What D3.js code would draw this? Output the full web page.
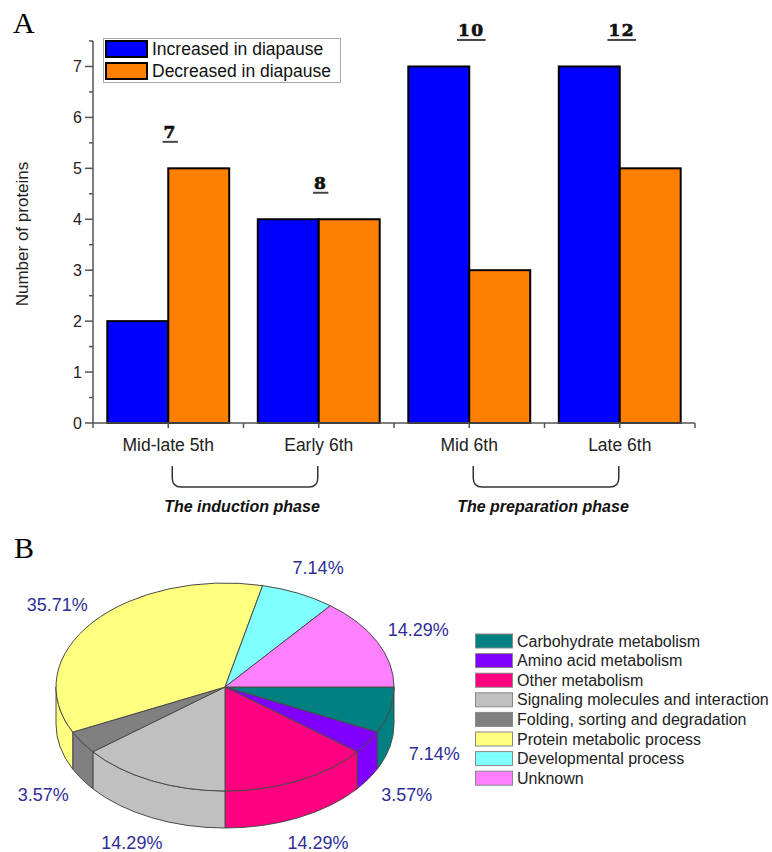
<!DOCTYPE html>
<html>
<head>
<meta charset="utf-8">
<script src="https://cdn.jsdelivr.net/npm/d3@7"></script>
<style>
  html, body { margin: 0; padding: 0; background: #fff; }
  svg { display: block; font-family: Arial, "Liberation Sans", sans-serif; }
</style>
</head>
<body>
<svg id="fig" width="772" height="852"></svg>
<script>
// ---- Panel A: proteins changed per developmental stage ----
const categories = ["Mid-late 5th", "Early 6th", "Mid 6th", "Late 6th"];
const increased = [2, 4, 7, 7];
const decreased = [5, 4, 3, 5];
const seriesNames = ["Increased in diapause", "Decreased in diapause"];
const seriesColors = ["#0000FF", "#FF8000"];
const yTicks = [0, 1, 2, 3, 4, 5, 6, 7];
const phaseLabels = ["The induction phase", "The preparation phase"];
const phaseFrom = ["Mid-late 5th", "Mid 6th"];
const phaseTo = ["Early 6th", "Late 6th"];

// ---- Panel B: functional classes of the proteins ----
const pieCategories = [
  "Carbohydrate metabolism",
  "Amino acid metabolism",
  "Other metabolism",
  "Signaling molecules and interaction",
  "Folding, sorting and degradation",
  "Protein metabolic process",
  "Developmental process",
  "Unknown"
];
const pieCounts = [2, 1, 4, 4, 1, 10, 2, 4];
const pieColors = ["#008080", "#8000FF", "#FF0080", "#C0C0C0", "#808080", "#FFFF80", "#80FFFF", "#FF80FF"];

const svg = d3.select("#fig");
const axisColor = "#555";

// ================= Panel A =================
svg.append("text").attr("x", 13).attr("y", 33)
  .attr("font-family", "'Liberation Serif', 'DejaVu Serif', serif")
  .attr("font-size", 30).text("A");

const x0 = d3.scaleBand().domain(categories).range([93, 695])
  .paddingInner(0.19).paddingOuter(0.095);
const x1 = d3.scaleBand().domain([0, 1]).range([0, x0.bandwidth()]);
const y = d3.scaleLinear().domain([0, 7.5]).range([423, 41]);

const gA = svg.append("g");

// bars
const rows = categories.map((c, i) => ({ cat: c, vals: [increased[i], decreased[i]] }));
const grp = gA.selectAll("g.grp").data(rows).join("g")
  .attr("transform", d => `translate(${x0(d.cat)},0)`);
grp.selectAll("rect").data(d => d.vals.map((v, k) => ({ v, k }))).join("rect")
  .attr("x", d => x1(d.k))
  .attr("width", x1.bandwidth())
  .attr("y", d => y(d.v))
  .attr("height", d => y(0) - y(d.v))
  .attr("fill", d => seriesColors[d.k])
  .attr("stroke", "#000").attr("stroke-width", 2);

// totals above each group
const totals = gA.selectAll("g.tot").data(rows).join("g");
totals.each(function (d) {
  const g = d3.select(this);
  const total = d.vals[0] + d.vals[1];
  const cx = x0(d.cat) + x0.bandwidth() / 2 + 2;
  const by = y(Math.max(d.vals[0], d.vals[1])) - 30;
  const t = g.append("text").attr("x", cx).attr("y", by)
    .attr("text-anchor", "middle")
    .attr("font-family", "'DejaVu Serif', serif").attr("font-weight", "bold")
    .attr("font-size", 17).attr("letter-spacing", 1.5)
    .attr("fill", "#111").attr("stroke", "#111").attr("stroke-width", 0.7)
    .text(total);
  const w = t.node().getComputedTextLength();
  g.append("line").attr("x1", cx - w / 2 - 1).attr("x2", cx + w / 2 + 1)
    .attr("y1", by + 3.5).attr("y2", by + 3.5)
    .attr("stroke", "#444").attr("stroke-width", 2);
});

// y axis
const yAxisG = gA.append("g");
yAxisG.append("line").attr("x1", 93).attr("x2", 93).attr("y1", y(0)).attr("y2", y(7.5))
  .attr("stroke", axisColor).attr("stroke-width", 1.5);
const yMinor = d3.range(0.5, 7.6, 1);
yAxisG.selectAll("line.maj").data(yTicks).join("line")
  .attr("x1", 85).attr("x2", 93).attr("y1", d => y(d)).attr("y2", d => y(d))
  .attr("stroke", axisColor).attr("stroke-width", 1.5);
yAxisG.selectAll("line.min").data(yMinor).join("line")
  .attr("x1", 89).attr("x2", 93).attr("y1", d => y(d)).attr("y2", d => y(d))
  .attr("stroke", axisColor).attr("stroke-width", 1.5);
yAxisG.selectAll("text").data(yTicks).join("text")
  .attr("x", 82).attr("y", d => y(d)).attr("dy", "0.35em")
  .attr("text-anchor", "end").attr("font-size", 16).attr("fill", "#222")
  .text(d => d);
gA.append("text")
  .attr("transform", `translate(28,${(y(0) + y(7.5)) / 2 + 2}) rotate(-90)`)
  .attr("text-anchor", "middle").attr("font-size", 17).attr("fill", "#222")
  .text("Number of proteins");

// x axis
const xAxisG = gA.append("g");
xAxisG.append("line").attr("x1", 93).attr("x2", 695).attr("y1", y(0)).attr("y2", y(0))
  .attr("stroke", axisColor).attr("stroke-width", 1.5);
const step = x0.step();
const xTickPos = d3.range(0, categories.length * 2 + 1).map(i => 93 + i * step / 2);
xAxisG.selectAll("line.tk").data(xTickPos).join("line")
  .attr("x1", d => d).attr("x2", d => d).attr("y1", y(0)).attr("y2", y(0) + 5)
  .attr("stroke", axisColor).attr("stroke-width", 1.5);
xAxisG.selectAll("text").data(categories).join("text")
  .attr("x", d => x0(d) + x0.bandwidth() / 2).attr("y", 451)
  .attr("text-anchor", "middle").attr("font-size", 17.5).attr("fill", "#222")
  .text(d => d);

// phase brackets
phaseLabels.forEach((lab, i) => {
  const xa = x0(phaseFrom[i]) + x0.bandwidth() / 2 + 4;
  const xb = x0(phaseTo[i]) + x0.bandwidth() / 2 - 1;
  const top = 466, bot = 487, r = 9;
  gA.append("path")
    .attr("d", `M${xa},${top} L${xa},${bot - r} Q${xa},${bot} ${xa + r},${bot} L${xb - r},${bot} Q${xb},${bot} ${xb},${bot - r} L${xb},${top}`)
    .attr("fill", "none").attr("stroke", "#333").attr("stroke-width", 1.5);
  gA.append("text").attr("x", (xa + xb) / 2 - 3).attr("y", 512)
    .attr("text-anchor", "middle").attr("font-size", 16)
    .attr("font-weight", "bold").attr("font-style", "italic").attr("fill", "#111")
    .text(lab);
});

// legend
const legA = gA.append("g");
legA.append("rect").attr("x", 103.5).attr("y", 38.5).attr("width", 237).attr("height", 44)
  .attr("fill", "#fff").attr("stroke", "#aaa").attr("stroke-width", 1);
seriesNames.forEach((n, k) => {
  legA.append("rect").attr("x", 106).attr("y", 41 + k * 22).attr("width", 41).attr("height", 16)
    .attr("fill", seriesColors[k]).attr("stroke", "#000").attr("stroke-width", 2);
  legA.append("text").attr("x", 152).attr("y", 55 + k * 22)
    .attr("font-size", 17.5).attr("fill", "#111").text(n);
});

// ================= Panel B =================
svg.append("text").attr("x", 14).attr("y", 558)
  .attr("font-family", "'Liberation Serif', 'DejaVu Serif', serif")
  .attr("font-size", 30).text("B");

const pcx = 225, pcy = 687, rx = 169, ry = 104, depth = 37;
const total = d3.sum(pieCounts);
const arcs = d3.pie().sort(null).startAngle(Math.PI / 2).endAngle(Math.PI / 2 + 2 * Math.PI)(pieCounts);
const pt = (a, dy = 0) => [pcx + rx * Math.sin(a), pcy - ry * Math.cos(a) + dy];
const pieStroke = "#4a4a4a";

const gB = svg.append("g");

// side walls on the front half (angles pi/2 .. 3pi/2)
arcs.forEach((d, i) => {
  const s0 = Math.max(d.startAngle, Math.PI / 2);
  const s1 = Math.min(d.endAngle, 3 * Math.PI / 2);
  if (s1 <= s0) return;
  const p0 = pt(s0), p1 = pt(s1), q1 = pt(s1, depth), q0 = pt(s0, depth);
  const large = (s1 - s0) > Math.PI ? 1 : 0;
  gB.append("path")
    .attr("d", `M${p0} A${rx},${ry} 0 ${large} 1 ${p1} L${q1} A${rx},${ry} 0 ${large} 0 ${q0} Z`)
    .attr("fill", pieColors[i]).attr("stroke", pieStroke).attr("stroke-width", 1)
    .attr("stroke-linejoin", "round");
});

// top faces
arcs.forEach((d, i) => {
  const p0 = pt(d.startAngle), p1 = pt(d.endAngle);
  const large = (d.endAngle - d.startAngle) > Math.PI ? 1 : 0;
  gB.append("path")
    .attr("d", `M${pcx},${pcy} L${p0} A${rx},${ry} 0 ${large} 1 ${p1} Z`)
    .attr("fill", pieColors[i]).attr("stroke", pieStroke).attr("stroke-width", 1)
    .attr("stroke-linejoin", "round");
});

// percentage labels
arcs.forEach((d, i) => {
  const mid = (d.startAngle + d.endAngle) / 2;
  const front = -Math.cos(mid) > 0;
  const lx = pcx + 1.27 * rx * Math.sin(mid);
  const ly = pcy - 1.27 * ry * Math.cos(mid) + (front ? depth : 0);
  gB.append("text").attr("x", lx).attr("y", ly).attr("dy", "0.36em")
    .attr("text-anchor", "middle").attr("font-size", 18).attr("fill", "#2e2e96")
    .text((pieCounts[i] / total * 100).toFixed(2) + "%");
});

// legend
const legB = gB.append("g");
pieCategories.forEach((n, i) => {
  const yy = 641 + i * 19.6;
  legB.append("rect").attr("x", 475.5).attr("y", yy - 7).attr("width", 37).attr("height", 14)
    .attr("fill", pieColors[i]).attr("stroke", "#888").attr("stroke-width", 1);
  legB.append("text").attr("x", 517).attr("y", yy).attr("dy", "0.35em")
    .attr("font-size", 16).attr("fill", "#222").text(n);
});
</script>
</body>
</html>
